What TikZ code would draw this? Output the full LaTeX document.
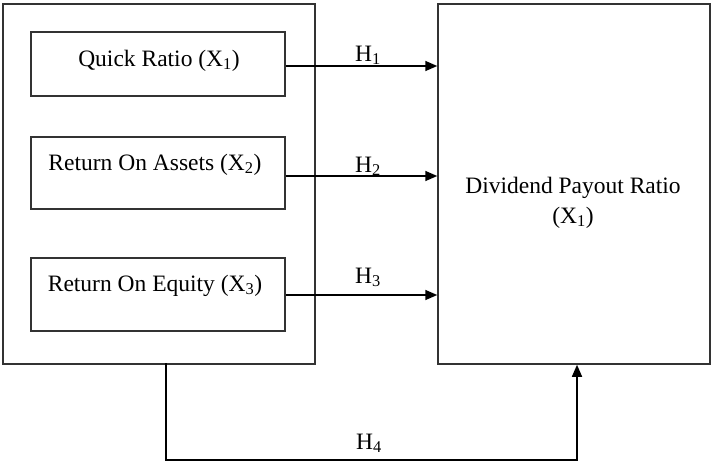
\documentclass[tikz,border=0pt]{standalone}
\usepackage{fontspec}
\setmainfont{Liberation Serif}
\usetikzlibrary{arrows.meta}
\begin{document}
\begin{tikzpicture}[x=1pt,y=-1pt,
  frame/.style={draw=black!80,line width=1.5pt},
  conn/.style={line width=1.6pt,-{Triangle[length=12pt,width=10pt]}},
  lbl/.style={font=\fontsize{23.5}{28}\selectfont,anchor=base,inner sep=0pt}]
\useasboundingbox (0,0) rectangle (714,464);
% outer boxes
\draw[frame] (3,4) rectangle (315,364);
\node[frame,inner sep=0pt,minimum width=272pt,minimum height=360pt] (dpr) at (574,184) {};
% inner boxes
\node[frame,inner sep=0pt,minimum width=254pt,minimum height=64pt] (qr) at (158,64) {};
\node[frame,inner sep=0pt,minimum width=254pt,minimum height=72pt] (roa) at (158,173) {};
\node[frame,inner sep=0pt,minimum width=254pt,minimum height=73pt] (roe) at (158,294.5) {};
\coordinate (outer) at (166,364);
% texts
\node[lbl] (tqr) at (159,66) {Quick Ratio (X\textsubscript{1})};
\node[lbl] (troa) at (155,170) {Return On Assets (X\textsubscript{2})};
\node[lbl] (troe) at (155,291) {Return On Equity (X\textsubscript{3})};
\node[lbl] (tdpr) at (573,193) {Dividend Payout Ratio};
\node[lbl] (tx) at (573,223) {(X\textsubscript{1})};
% arrows
\draw[conn] (qr.east |- 0,66) -- (dpr.west |- 0,66);
\draw[conn] (roa.east |- 0,176) -- (dpr.west |- 0,176);
\draw[conn] (roe.east |- 0,295) -- (dpr.west |- 0,295);
\draw[conn,line cap=rect] (outer) -- (166,460) -- (577,460) -- (dpr.south -| 577,0);
% H labels
\node[lbl] (h1) at (368,61) {H\textsubscript{1}};
\node[lbl] (h2) at (368,172) {H\textsubscript{2}};
\node[lbl] (h3) at (368,283) {H\textsubscript{3}};
\node[lbl] (h4) at (369,449) {H\textsubscript{4}};
\end{tikzpicture}
\end{document}
